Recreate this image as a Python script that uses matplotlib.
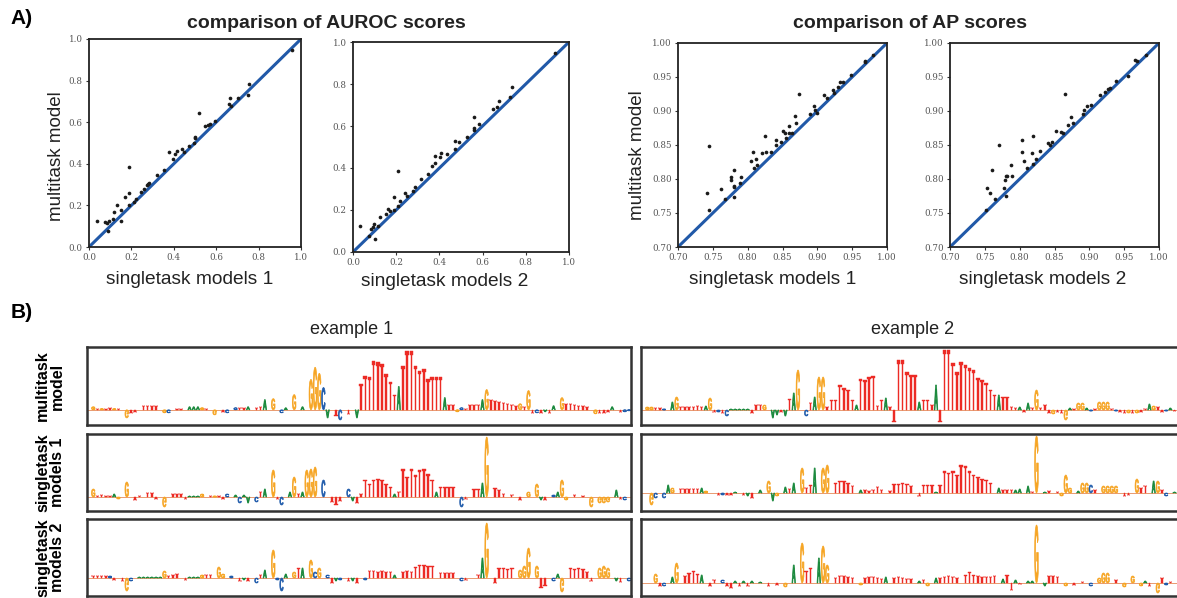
import matplotlib
matplotlib.use('Agg')
import matplotlib.pyplot as plt
from matplotlib.textpath import TextPath
from matplotlib.path import Path
from matplotlib.patches import PathPatch
from matplotlib.font_manager import FontProperties
from matplotlib.transforms import Affine2D

plt.rcParams['font.family'] = 'Liberation Sans'

# ---------------- panel A data ----------------
auroc_single1 = [0.037, 0.077, 0.085, 0.088, 0.093, 0.114, 0.117, 0.133, 0.152, 0.152,
                 0.168, 0.189, 0.187, 0.189, 0.213, 0.22, 0.245, 0.258, 0.272, 0.277,
                 0.285, 0.32, 0.354, 0.376, 0.397, 0.405, 0.413, 0.44, 0.448, 0.474,
                 0.493, 0.498, 0.501, 0.517, 0.549, 0.562, 0.573, 0.592, 0.661, 0.667,
                 0.669, 0.701, 0.749, 0.754, 0.957]
auroc_multi1 = [0.124, 0.12, 0.116, 0.077, 0.124, 0.137, 0.167, 0.203, 0.18, 0.125,
                0.241, 0.26, 0.386, 0.201, 0.217, 0.232, 0.264, 0.278, 0.296, 0.302,
                0.31, 0.347, 0.37, 0.457, 0.421, 0.447, 0.463, 0.471, 0.458, 0.486,
                0.498, 0.527, 0.522, 0.643, 0.582, 0.588, 0.592, 0.608, 0.688, 0.717,
                0.678, 0.715, 0.732, 0.785, 0.945]
auroc_single2 = [0.031, 0.073, 0.083, 0.093, 0.099, 0.102, 0.114, 0.127, 0.154, 0.16,
                 0.17, 0.191, 0.191, 0.207, 0.208, 0.219, 0.242, 0.25, 0.276, 0.289,
                 0.315, 0.347, 0.367, 0.381, 0.381, 0.401, 0.407, 0.435, 0.471, 0.474,
                 0.491, 0.528, 0.562, 0.559, 0.562, 0.585, 0.648, 0.667, 0.677, 0.728,
                 0.736, 0.937]
auroc_multi2 = [0.123, 0.076, 0.11, 0.119, 0.135, 0.062, 0.126, 0.167, 0.183, 0.204,
                0.193, 0.26, 0.202, 0.385, 0.218, 0.242, 0.279, 0.268, 0.291, 0.31,
                0.349, 0.373, 0.411, 0.459, 0.422, 0.451, 0.473, 0.465, 0.49, 0.53,
                0.522, 0.548, 0.645, 0.589, 0.583, 0.61, 0.68, 0.689, 0.721, 0.736,
                0.785, 0.947]
ap_single1 = [0.742, 0.745, 0.745, 0.762, 0.767, 0.776, 0.776, 0.78, 0.78, 0.78,
              0.781, 0.789, 0.791, 0.805, 0.807, 0.809, 0.812, 0.813, 0.82, 0.825,
              0.826, 0.833, 0.841, 0.841, 0.848, 0.85, 0.853, 0.855, 0.859, 0.859,
              0.863, 0.868, 0.869, 0.874, 0.889, 0.895, 0.896, 0.899, 0.91, 0.914,
              0.922, 0.924, 0.929, 0.933, 0.937, 0.949, 0.968, 0.969, 0.98]
ap_multi1 = [0.779, 0.849, 0.755, 0.786, 0.77, 0.803, 0.798, 0.813, 0.774, 0.788,
             0.79, 0.794, 0.803, 0.826, 0.839, 0.816, 0.829, 0.821, 0.838, 0.863,
             0.84, 0.84, 0.857, 0.85, 0.854, 0.871, 0.868, 0.861, 0.878, 0.868,
             0.868, 0.892, 0.882, 0.925, 0.896, 0.907, 0.902, 0.897, 0.924, 0.919,
             0.931, 0.927, 0.935, 0.943, 0.943, 0.953, 0.974, 0.972, 0.982]
ap_single2 = [0.752, 0.753, 0.757, 0.761, 0.765, 0.771, 0.777, 0.779, 0.78, 0.782,
              0.78, 0.787, 0.789, 0.803, 0.803, 0.806, 0.811, 0.817, 0.819, 0.819,
              0.824, 0.829, 0.84, 0.843, 0.847, 0.852, 0.859, 0.862, 0.865, 0.87,
              0.873, 0.877, 0.891, 0.892, 0.897, 0.902, 0.916, 0.923, 0.927, 0.929,
              0.938, 0.956, 0.965, 0.968, 0.982]
ap_multi2 = [0.755, 0.787, 0.779, 0.813, 0.771, 0.85, 0.787, 0.799, 0.804, 0.804,
             0.775, 0.821, 0.804, 0.858, 0.839, 0.826, 0.816, 0.838, 0.822, 0.863,
             0.829, 0.841, 0.853, 0.85, 0.854, 0.871, 0.869, 0.868, 0.925, 0.879,
             0.891, 0.882, 0.896, 0.902, 0.907, 0.909, 0.924, 0.928, 0.933, 0.934,
             0.944, 0.952, 0.975, 0.973, 0.982]

auroc_ticks = [0.0, 0.2, 0.4, 0.6, 0.8, 1.0]
ap_ticks = [0.70, 0.75, 0.80, 0.85, 0.90, 0.95, 1.00]

# ---------------- panel B data: (position, base, signed height) ----------------
logo_ex1_multi = [
    (1, 'G', 3), (2, 'T', 1), (3, 'G', 1), (4, 'T', 1), (5, 'T', 2), (6, 'G', 1), (7, 'T', 1),
    (9, 'G', -8), (10, 'T', -3), (11, 'T', -2), (13, 'T', 4), (14, 'T', 4), (15, 'T', 4),
    (16, 'T', 4), (18, 'G', -3), (19, 'C', -3), (21, 'T', 1), (22, 'T', 1), (24, 'A', 3),
    (25, 'A', 3), (26, 'A', 3), (27, 'G', 2), (28, 'T', 1), (30, 'G', -5), (32, 'T', -2),
    (33, 'C', -3), (35, 'C', 2), (36, 'T', 2), (37, 'T', 2), (38, 'A', 3), (40, 'T', 2),
    (41, 'T', 3), (42, 'A', 10), (44, 'G', 11), (46, 'C', -3), (47, 'A', 2), (49, 'G', 15),
    (51, 'A', 3), (53, 'G', 30), (54, 'G', 42), (55, 'G', 36), (56, 'C', 22), (57, 'A', -8),
    (59, 'T', -6), (60, 'C', -10), (62, 'T', -4), (64, 'A', -8),
    (65, 'T', 25), (66, 'T', 33), (67, 'T', 32), (68, 'T', 48), (69, 'T', 47), (70, 'T', 45),
    (71, 'T', 35), (72, 'T', 27), (73, 'T', 15), (74, 'A', 23), (75, 'T', 43), (76, 'T', 58),
    (77, 'T', 58), (78, 'T', 43), (79, 'T', 38), (80, 'T', 40), (81, 'T', 30), (82, 'T', 32),
    (83, 'T', 32), (84, 'T', 32), (85, 'A', 12), (86, 'T', 5), (87, 'T', 5), (88, 'G', -2),
    (89, 'C', 2), (90, 'T', 1), (91, 'T', 5), (92, 'T', 5), (93, 'T', 5), (94, 'A', 10),
    (95, 'G', 20), (96, 'T', 10), (97, 'T', 9), (98, 'T', 8), (99, 'T', 7), (100, 'T', 6),
    (101, 'T', 5), (102, 'T', 4), (103, 'G', 6), (104, 'T', 3), (105, 'G', 19), (106, 'T', -3),
    (107, 'C', -3), (108, 'T', -3), (109, 'A', -2), (110, 'T', -3), (111, 'A', 4), (113, 'G', 12),
    (114, 'T', 6), (115, 'T', 6), (116, 'T', 5), (117, 'T', 4), (118, 'T', 4), (119, 'T', 3),
    (121, 'G', -4), (122, 'T', -3), (123, 'T', -3), (124, 'T', -2), (125, 'A', 3),
    (127, 'T', -2), (128, 'C', -2), (129, 'C', -1)]

logo_ex2_multi = [
    (1, 'G', 3), (2, 'G', 3), (3, 'T', 2), (4, 'T', 2), (5, 'C', 1), (7, 'A', 8), (8, 'G', 13),
    (9, 'T', 3), (10, 'T', 3), (11, 'T', 3), (12, 'T', 3), (13, 'T', 4), (14, 'T', 3),
    (15, 'A', 4), (16, 'G', 12), (17, 'T', -2), (18, 'C', -2), (19, 'T', -3), (20, 'C', -6),
    (21, 'A', 1), (22, 'A', 1), (23, 'A', 1), (24, 'A', 1), (25, 'A', 1), (26, 'T', -3),
    (27, 'T', 5), (28, 'T', 5), (29, 'G', 5), (31, 'A', -8), (32, 'A', -5), (33, 'T', -2),
    (34, 'A', -6), (35, 'T', 11), (36, 'A', 17), (37, 'G', 40), (39, 'C', -6), (40, 'T', 7),
    (41, 'A', 13), (42, 'G', 33), (43, 'G', 33), (44, 'T', 3), (45, 'T', 10), (46, 'T', 10),
    (47, 'T', 25), (48, 'T', 22), (49, 'T', 20), (50, 'T', 10), (51, 'A', 5), (52, 'T', 31),
    (53, 'T', 30), (54, 'T', 33), (55, 'T', 34), (56, 'T', 4), (57, 'T', 10), (58, 'A', 12),
    (59, 'T', 3), (60, 'T', -12), (61, 'T', 50), (62, 'T', 50), (63, 'T', 38), (64, 'T', 35),
    (65, 'T', 35), (66, 'A', 8), (67, 'T', 10), (68, 'T', 10), (69, 'T', 5), (70, 'A', 25),
    (71, 'T', -12), (72, 'T', 60), (73, 'T', 60), (74, 'T', 47), (75, 'T', 38), (76, 'T', 48),
    (77, 'T', 45), (78, 'T', 42), (79, 'T', 40), (80, 'T', 32), (81, 'T', 30), (82, 'T', 27),
    (83, 'T', 20), (84, 'T', 15), (85, 'A', 15), (86, 'T', 13), (87, 'T', 13), (88, 'T', 3),
    (89, 'T', 2), (90, 'A', 3), (91, 'T', -2), (92, 'A', 7), (93, 'T', 2), (94, 'G', 20),
    (95, 'T', 2), (96, 'T', 5), (97, 'T', -3), (98, 'G', -4), (99, 'T', -2), (100, 'T', -3),
    (101, 'G', -10), (102, 'A', 2), (103, 'T', 1), (104, 'G', 7), (105, 'G', 7), (106, 'A', 2),
    (107, 'C', -1), (108, 'T', 1), (109, 'G', 8), (110, 'G', 8), (111, 'G', 8), (112, 'T', 1),
    (113, 'C', -1), (114, 'T', -2), (115, 'T', -3), (116, 'G', -3), (117, 'T', -3),
    (118, 'G', -3), (119, 'T', -2), (120, 'T', 1), (121, 'A', 6), (122, 'G', 4), (123, 'T', 3),
    (124, 'T', -2), (125, 'C', -1), (126, 'A', 2), (127, 'T', -1)]

logo_ex1_single1 = [
    (1, 'G', 8), (2, 'T', 1), (3, 'T', 2), (4, 'T', 1), (5, 'T', 1), (6, 'A', 3), (7, 'G', -2),
    (9, 'G', 15), (11, 'T', -3), (12, 'T', 1), (14, 'T', 4), (15, 'T', 4), (16, 'T', -2),
    (18, 'G', -10), (20, 'T', 3), (21, 'T', 3), (22, 'T', 3), (23, 'T', -2), (24, 'A', 1),
    (25, 'A', 1), (26, 'A', 1), (27, 'G', 3), (29, 'T', 1), (30, 'G', 1), (31, 'T', 1),
    (32, 'T', -2), (33, 'C', 3), (35, 'A', 2), (36, 'C', -6), (37, 'A', 2), (38, 'A', -6),
    (40, 'C', -5), (41, 'T', 5), (42, 'A', 8), (44, 'G', 27), (45, 'T', -2), (46, 'C', -8),
    (48, 'A', 5), (49, 'G', 20), (50, 'T', 3), (51, 'A', 5), (52, 'G', 27), (53, 'G', 28),
    (54, 'G', 30), (56, 'C', 17), (58, 'T', -5), (59, 'T', -8), (60, 'T', -4), (62, 'C', 8),
    (63, 'A', -4), (64, 'T', -6), (65, 'T', 3), (66, 'T', 17), (67, 'T', 13), (68, 'T', 17),
    (69, 'T', 18), (70, 'T', 17), (71, 'T', 13), (72, 'T', 10), (73, 'A', 3), (74, 'T', 5),
    (75, 'T', 28), (76, 'T', 20), (77, 'T', 28), (78, 'T', 22), (79, 'T', 27), (80, 'T', 28),
    (81, 'T', 23), (82, 'T', 17), (83, 'A', 5), (84, 'T', 10), (85, 'T', 10), (86, 'T', 10),
    (87, 'T', 10), (89, 'C', -10), (90, 'T', -2), (92, 'T', 8), (93, 'T', 8), (94, 'A', 14),
    (95, 'G', 60), (97, 'T', 9), (98, 'T', 7), (99, 'T', 3), (101, 'T', 2), (103, 'T', -3),
    (105, 'G', 5), (107, 'G', 13), (108, 'A', -3), (109, 'T', -3), (111, 'C', 2), (112, 'A', 5),
    (113, 'G', 17), (114, 'G', -3), (116, 'T', 2), (118, 'T', 1), (120, 'G', -10),
    (122, 'G', -6), (123, 'G', -6), (124, 'G', -5), (126, 'A', 7), (127, 'T', -2), (128, 'C', -3)]

logo_ex2_single1 = [
    (2, 'G', -12), (3, 'C', -5), (5, 'C', -5), (6, 'A', 8), (7, 'G', 5), (9, 'T', 4),
    (10, 'T', 4), (11, 'T', 4), (12, 'T', 4), (13, 'T', 4), (14, 'A', 5), (15, 'G', 2),
    (18, 'T', -2), (19, 'C', -2), (20, 'T', -2), (21, 'T', -2), (22, 'A', 1), (24, 'T', -2),
    (25, 'A', -3), (26, 'T', -5), (28, 'A', 3), (30, 'G', 12), (31, 'A', -8), (32, 'G', -3),
    (34, 'A', 6), (35, 'T', 4), (36, 'A', 10), (38, 'G', 25), (39, 'T', 5), (40, 'T', 8),
    (41, 'A', 25), (43, 'G', 25), (44, 'G', 28), (46, 'T', 10), (47, 'T', 12), (48, 'T', 12),
    (49, 'T', 10), (50, 'T', 7), (52, 'A', 3), (53, 'T', 3), (54, 'T', 2), (55, 'T', 3),
    (56, 'T', 6), (57, 'T', 3), (59, 'T', 2), (60, 'T', 9), (61, 'T', 9), (62, 'T', 10),
    (63, 'T', 9), (64, 'T', 7), (66, 'T', -3), (67, 'T', 8), (68, 'T', 8), (69, 'T', 8),
    (70, 'A', 1), (71, 'T', 8), (72, 'T', 22), (73, 'T', 20), (74, 'T', 22), (75, 'T', 18),
    (76, 'T', 28), (77, 'T', 27), (78, 'T', 22), (79, 'T', 18), (80, 'T', 16), (81, 'T', 14),
    (82, 'T', 13), (83, 'T', 10), (85, 'A', 5), (86, 'T', 3), (87, 'T', 3), (88, 'T', 3),
    (89, 'A', 3), (90, 'A', 4), (92, 'A', 7), (93, 'T', 1), (94, 'G', 57), (96, 'A', 1),
    (97, 'T', 2), (99, 'T', 1), (100, 'G', -3), (101, 'G', 18), (102, 'G', 5), (104, 'A', 2),
    (105, 'G', 10), (106, 'G', 10), (107, 'C', 8), (108, 'T', 3), (110, 'G', 7), (111, 'G', 7),
    (112, 'G', 7), (113, 'G', 7), (115, 'T', -3), (116, 'T', -2), (118, 'G', 14), (119, 'T', 5),
    (120, 'T', 7), (122, 'A', 12), (123, 'G', 12), (124, 'T', 3), (125, 'C', -3), (127, 'A', 1)]

logo_ex1_single2 = [
    (1, 'T', 2), (2, 'T', 2), (3, 'T', 2), (4, 'T', 2), (5, 'C', 2), (6, 'T', -2), (8, 'T', -3),
    (9, 'G', -13), (10, 'C', -3), (12, 'A', 1), (13, 'A', 1), (14, 'A', 1), (15, 'A', 1),
    (16, 'A', 1), (17, 'A', 1), (18, 'G', 7), (19, 'T', 2), (20, 'T', 3), (21, 'T', 4),
    (23, 'T', -2), (24, 'A', 1), (25, 'A', 1), (26, 'A', 1), (27, 'G', 3), (28, 'T', 3),
    (29, 'T', 3), (31, 'G', 11), (32, 'G', 4), (34, 'C', 2), (36, 'T', -3), (37, 'A', -2),
    (38, 'T', -3), (40, 'C', -5), (41, 'T', 3), (42, 'A', 8), (44, 'G', 28), (45, 'C', -2),
    (46, 'C', -13), (47, 'A', 4), (49, 'G', 6), (50, 'T', 10), (51, 'A', 10), (53, 'G', 18),
    (54, 'C', 6), (55, 'G', 10), (57, 'C', 3), (58, 'T', -5), (59, 'A', -3), (60, 'C', -2),
    (62, 'T', -3), (63, 'A', -3), (64, 'T', -5), (66, 'C', -2), (67, 'T', 7), (68, 'T', 7),
    (69, 'T', 6), (70, 'T', 7), (71, 'T', 6), (72, 'T', 6), (73, 'A', 3), (75, 'T', 6),
    (76, 'T', 7), (77, 'T', 6), (78, 'T', 11), (79, 'T', 13), (80, 'T', 13), (81, 'T', 12),
    (82, 'T', 12), (84, 'T', 5), (85, 'T', 5), (86, 'T', 5), (87, 'T', 5), (89, 'C', -3),
    (90, 'T', -2), (93, 'T', 3), (94, 'A', 20), (95, 'G', 55), (97, 'T', -5), (98, 'T', 10),
    (99, 'T', 10), (100, 'T', 9), (101, 'T', 10), (103, 'G', 8), (104, 'G', 12), (105, 'G', 30),
    (107, 'G', 12), (108, 'T', -10), (109, 'T', -8), (111, 'C', -3), (112, 'A', 4),
    (113, 'G', -14), (115, 'T', 10), (116, 'T', 9), (117, 'T', 10), (118, 'T', 9), (119, 'T', 6),
    (120, 'T', -3), (122, 'G', 10), (123, 'G', 12), (124, 'G', 10), (126, 'A', -3),
    (127, 'T', -4), (129, 'C', -3)]

logo_ex2_single2 = [
    (3, 'G', 9), (4, 'T', -3), (5, 'C', -3), (7, 'A', 6), (8, 'G', 20), (10, 'T', 7),
    (11, 'T', 10), (12, 'T', 12), (13, 'T', 9), (14, 'A', 8), (16, 'T', -3), (17, 'T', 3),
    (19, 'C', 3), (20, 'T', -3), (21, 'T', -5), (22, 'A', 2), (23, 'T', -3), (24, 'A', 2),
    (25, 'T', -3), (26, 'A', 2), (28, 'A', 1), (30, 'T', -3), (32, 'T', -2), (34, 'G', -4),
    (36, 'A', 18), (38, 'G', 40), (39, 'T', 12), (40, 'T', 15), (42, 'A', 25), (43, 'G', 37),
    (44, 'G', 18), (46, 'T', 5), (47, 'T', 7), (48, 'T', 7), (49, 'T', 6), (50, 'T', 5),
    (52, 'G', -2), (53, 'T', 5), (54, 'T', 6), (55, 'T', 6), (56, 'T', 5), (57, 'T', 4),
    (58, 'A', 6), (60, 'T', 5), (61, 'T', 6), (62, 'T', 5), (63, 'T', 4), (64, 'T', 4),
    (66, 'A', 2), (67, 'T', 3), (68, 'G', -3), (70, 'A', 5), (71, 'T', 5), (72, 'T', 6),
    (73, 'T', 7), (74, 'T', 6), (75, 'T', 5), (77, 'T', 8), (78, 'T', 11), (79, 'T', 8),
    (80, 'T', 7), (81, 'T', 6), (82, 'T', 6), (83, 'T', 6), (84, 'T', 7), (86, 'A', 4),
    (87, 'T', 8), (88, 'T', -7), (89, 'A', 3), (90, 'T', -1), (92, 'A', 2), (93, 'A', 2),
    (94, 'G', 58), (96, 'A', -3), (97, 'T', 7), (98, 'T', 7), (99, 'T', 6), (101, 'G', -3),
    (103, 'T', -2), (105, 'T', 1), (107, 'C', -3), (109, 'G', 5), (110, 'G', 10), (111, 'G', 10),
    (113, 'T', 3), (115, 'G', -4), (117, 'G', 7), (119, 'G', -3), (120, 'A', 2), (121, 'T', -3),
    (123, 'G', -10), (124, 'T', 5), (125, 'C', -2), (126, 'T', 1)]

logo_lims = {
    'ex1_multi': (-15, 62), 'ex2_multi': (-15, 63),
    'ex1_single1': (-14, 63), 'ex2_single1': (-18, 59),
    'ex1_single2': (-18, 59), 'ex2_single2': (-13, 64),
}
seq_len = 130
row_labels = ['multitask\nmodel', 'singletask\nmodels 1', 'singletask\nmodels 2']
col_titles = ['example 1', 'example 2']

base_color = {'A': '#1c8a3e', 'C': '#1f5bab', 'G': '#f6a524', 'T': '#ec2b25'}
stroke = {'A': 0.5, 'C': 0.5, 'G': 0.5, 'T': 0.3}

W, H = 1177, 598
fig = plt.figure(figsize=(W / 100, H / 100), dpi=100)


def px_axes(x0, y0, x1, y1):
    return fig.add_axes([x0 / W, 1 - y1 / H, (x1 - x0) / W, (y1 - y0) / H])


def ftext(x, y, s, **kw):
    return fig.text(x / W, 1 - y / H, s, **kw)


# ---------------- panel A ----------------
scatter_panels = [
    (auroc_single1, auroc_multi1, (89, 39, 301, 247), auroc_ticks, '%.1f'),
    (auroc_single2, auroc_multi2, (353, 42, 569, 252), auroc_ticks, '%.1f'),
    (ap_single1, ap_multi1, (678, 43, 887, 247), ap_ticks, '%.2f'),
    (ap_single2, ap_multi2, (950, 43, 1159, 247), ap_ticks, '%.2f'),
]
for xs, ys, box, ticks, fmt in scatter_panels:
    ax = px_axes(*box)
    lim = (ticks[0], ticks[-1])
    ax.plot(lim, lim, color='#2159a8', lw=2.2, zorder=1)
    ax.scatter(xs, ys, s=7, color='#1a1a1a', linewidths=0, zorder=2)
    ax.set_xlim(lim)
    ax.set_ylim(lim)
    ax.set_xticks(ticks)
    ax.set_yticks(ticks)
    ax.set_xticklabels([fmt % t for t in ticks])
    ax.set_yticklabels([fmt % t for t in ticks])
    for lab in ax.get_xticklabels() + ax.get_yticklabels():
        lab.set_fontfamily('DejaVu Serif')
        lab.set_fontsize(6.3)
        lab.set_color('#555555')
    ax.tick_params(length=2.5, width=0.8, pad=2, color='#333333')
    for sp in ax.spines.values():
        sp.set_linewidth(1.3)
        sp.set_color('#222222')

ftext(22, 19, 'A)', fontsize=15, fontweight='bold', ha='center', va='center')
ftext(326, 23, 'comparison of AUROC scores', fontsize=14, fontweight='bold',
      ha='center', va='center', color='#222222')
ftext(910, 23, 'comparison of AP scores', fontsize=14, fontweight='bold',
      ha='center', va='center', color='#222222')
ftext(57, 156, 'multitask model', fontsize=13.5, rotation=90, ha='center', va='center',
      color='#222222')
ftext(638, 155, 'multitask model', fontsize=13.5, rotation=90, ha='center', va='center',
      color='#222222')
for x, y, s in [(190, 280, 'singletask models 1'), (445, 281, 'singletask models 2'),
                (773, 280, 'singletask models 1'), (1043, 280, 'singletask models 2')]:
    ftext(x, y, s, fontsize=13.8, ha='center', va='center', color='#222222')

# ---------------- panel B ----------------
fp = FontProperties(family='Liberation Sans', weight='bold')
glyph = {b: TextPath((0, 0), b, size=1, prop=fp) for b in 'ACG'}
# T as a block letter with a thin cap, so tall columns read as bars
glyph['T'] = Path([(0, 1), (1, 1), (1, 0.93), (0.7, 0.93), (0.7, 0), (0.3, 0),
                   (0.3, 0.93), (0, 0.93), (0, 1)], closed=True)


def draw_logo(ax, letters, lims):
    for pos, b, h in letters:
        p = glyph[b]
        ext = p.get_extents()
        tr = (Affine2D().translate(-ext.x0, -ext.y0)
              .scale(0.86 / ext.width, h / ext.height)
              .translate(pos - 0.43, 0))
        ax.add_patch(PathPatch(tr.transform_path(p), facecolor=base_color[b],
                               edgecolor=base_color[b], lw=stroke[b]))
    ax.axhline(0, color='#e58a5a', lw=0.6, zorder=0)
    ax.set_xlim(-0.5, seq_len - 0.5)
    ax.set_ylim(*lims)
    ax.set_xticks([])
    ax.set_yticks([])
    for sp in ax.spines.values():
        sp.set_linewidth(1.8)
        sp.set_color('#333333')


logo_rows = [
    (347, 425, logo_ex1_multi, 'ex1_multi', logo_ex2_multi, 'ex2_multi'),
    (434, 511, logo_ex1_single1, 'ex1_single1', logo_ex2_single1, 'ex2_single1'),
    (519, 596, logo_ex1_single2, 'ex1_single2', logo_ex2_single2, 'ex2_single2'),
]
for r, (y0, y1, left, lk, right, rk) in enumerate(logo_rows):
    draw_logo(px_axes(87, y0, 631, y1), left, logo_lims[lk])
    draw_logo(px_axes(641, y0, 1185, y1), right, logo_lims[rk])
    ftext(50, (y0 + y1) / 2, row_labels[r], fontsize=11.5, fontweight='bold', rotation=90,
          ha='center', va='center', multialignment='center', linespacing=1.0)

ftext(22, 313, 'B)', fontsize=15, fontweight='bold', ha='center', va='center')
ftext(352, 329, col_titles[0], fontsize=13, ha='center', va='center', color='#222222')
ftext(913, 329, col_titles[1], fontsize=13, ha='center', va='center', color='#222222')

fig.savefig('out.png', dpi=100)
